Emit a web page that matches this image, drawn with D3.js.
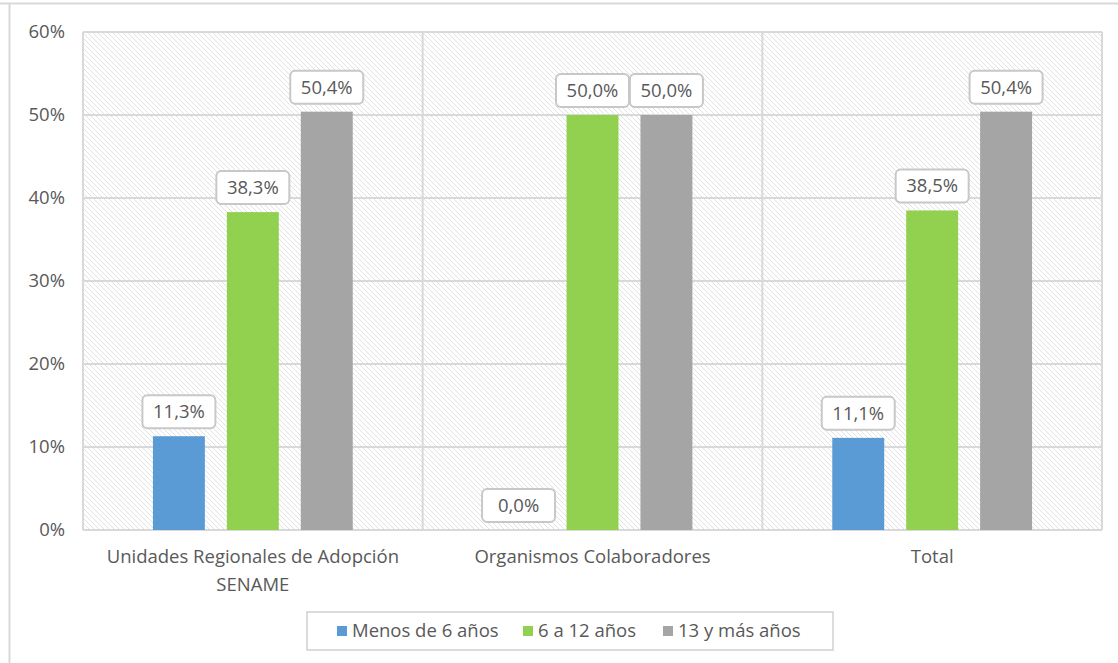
<!DOCTYPE html>
<html><head><meta charset="utf-8">
<script src="https://cdn.jsdelivr.net/npm/d3@7"></script>
<style>body{margin:0;background:#fff;} svg{display:block;}</style>
</head><body>
<svg id="c" width="1118" height="663"></svg>
<script>
const categories = [["Unidades Regionales de Adopción", "SENAME"], ["Organismos Colaboradores"], ["Total"]];
const seriesNames = ["Menos de 6 años", "6 a 12 años", "13 y más años"];
const menos6 = [11.3, 0.0, 11.1];
const de6a12 = [38.3, 50.0, 38.5];
const mas13 = [50.4, 50.0, 50.4];
const yTicks = [0, 10, 20, 30, 40, 50, 60];
const colors = ["#5B9BD5", "#92D050", "#A5A5A5"];

const seriesValues = [menos6, de6a12, mas13];
const svg = d3.select("#c");
const font = "'Open Sans', sans-serif";
const txt = "#595959";
const gridC = "#d9d9d9";
const fs = 18.5;

// outer frame
svg.append("line").attr("x1",0).attr("x2",1118).attr("y1",3.5).attr("y2",3.5).attr("stroke",gridC).attr("stroke-width",2);
svg.append("line").attr("x1",9.5).attr("x2",9.5).attr("y1",3).attr("y2",663).attr("stroke",gridC).attr("stroke-width",2);

const L = 83, R = 1102, T = 32, B = 530;
const y = d3.scaleLinear().domain([0, 60]).range([B, T]);
const catIdx = categories.map((d,i)=>i);
const x0 = d3.scaleBand().domain(catIdx).range([L, R]).padding(0);
const x1 = d3.scaleBand().domain(d3.range(seriesNames.length)).range([0, x0.bandwidth()]).paddingInner(22/74).paddingOuter(0.946);

// hatch pattern
const defs = svg.append("defs");
const pat = defs.append("pattern").attr("id","hatch").attr("patternUnits","userSpaceOnUse").attr("width",5).attr("height",5);
pat.append("rect").attr("width",5).attr("height",5).attr("fill","#fff");
pat.append("path").attr("d","M-1,-1 L6,6 M-1,4 L1,6 M4,-1 L6,1").attr("stroke","#e2e2e2").attr("stroke-width",1);

svg.append("rect").attr("x",L).attr("y",T).attr("width",R-L).attr("height",B-T).attr("fill","url(#hatch)");

// grid lines
svg.append("g").selectAll("line").data(yTicks).join("line")
  .attr("x1",L).attr("x2",R).attr("y1",d=>y(d)).attr("y2",d=>y(d))
  .attr("stroke",gridC).attr("stroke-width",2);
// vertical separators
const seps = d3.range(categories.length+1).map(i => L + i*x0.step());
svg.append("g").selectAll("line").data(seps).join("line")
  .attr("x1",d=>d).attr("x2",d=>d).attr("y1",T).attr("y2",B)
  .attr("stroke",gridC).attr("stroke-width",2);

// y axis labels
svg.append("g").selectAll("text").data(yTicks).join("text")
  .attr("x",65).attr("y",d=>y(d)).attr("dy","0.35em").attr("text-anchor","end")
  .attr("font-family",font).attr("font-size",fs).attr("fill",txt)
  .text(d=>d+"%");

// bars
const flat = [];
catIdx.forEach(ci => seriesValues.forEach((arr, si) => flat.push({ci, si, v: arr[ci]})));
svg.append("g").selectAll("rect").data(flat.filter(d=>d.v>0)).join("rect")
  .attr("x", d=>x0(d.ci)+x1(d.si)).attr("width", x1.bandwidth())
  .attr("y", d=>y(d.v)).attr("height", d=>B-y(d.v)).attr("fill", d=>colors[d.si]);

// labels
const fmt = v => v.toFixed(1).replace(".", ",") + "%";
const lg = svg.append("g").selectAll("g").data(flat).join("g")
  .attr("transform", d=>`translate(${x0(d.ci)+x1(d.si)+x1.bandwidth()/2},${y(d.v)-8})`);
lg.append("rect").attr("x",-36.5).attr("y",-33).attr("width",73).attr("height",33).attr("rx",5)
  .attr("fill","#fff").attr("stroke","#c8c8c8").attr("stroke-width",2);
lg.append("text").attr("y",-16.5).attr("dy","0.35em").attr("text-anchor","middle")
  .attr("font-family",font).attr("font-size",fs).attr("fill",txt).text(d=>fmt(d.v));

// category labels
const cg = svg.append("g").selectAll("text").data(catIdx).join("text")
  .attr("x", d=>x0(d)+x0.bandwidth()/2).attr("y",563).attr("text-anchor","middle")
  .attr("font-family",font).attr("font-size",fs).attr("fill",txt);
cg.selectAll("tspan").data(d=>categories[d]).join("tspan")
  .attr("x", function(){ return d3.select(this.parentNode).attr("x"); })
  .attr("dy",(d,i)=>i===0?0:28).text(d=>d);

// legend
svg.append("rect").attr("x",307).attr("y",612).attr("width",526).attr("height",38)
  .attr("fill","#fff").attr("stroke","#d0d0d0").attr("stroke-width",1.5);
const legX = [337, 523, 663];
const li = svg.append("g").selectAll("g").data(seriesNames).join("g")
  .attr("transform",(d,i)=>`translate(${legX[i]},631)`);
li.append("rect").attr("x",0).attr("y",-5).attr("width",10).attr("height",10).attr("fill",(d,i)=>colors[i]);
li.append("text").attr("x",15).attr("dy","0.35em").attr("font-family",font).attr("font-size",fs).attr("fill",txt).text(d=>d);
</script>
</body></html>
